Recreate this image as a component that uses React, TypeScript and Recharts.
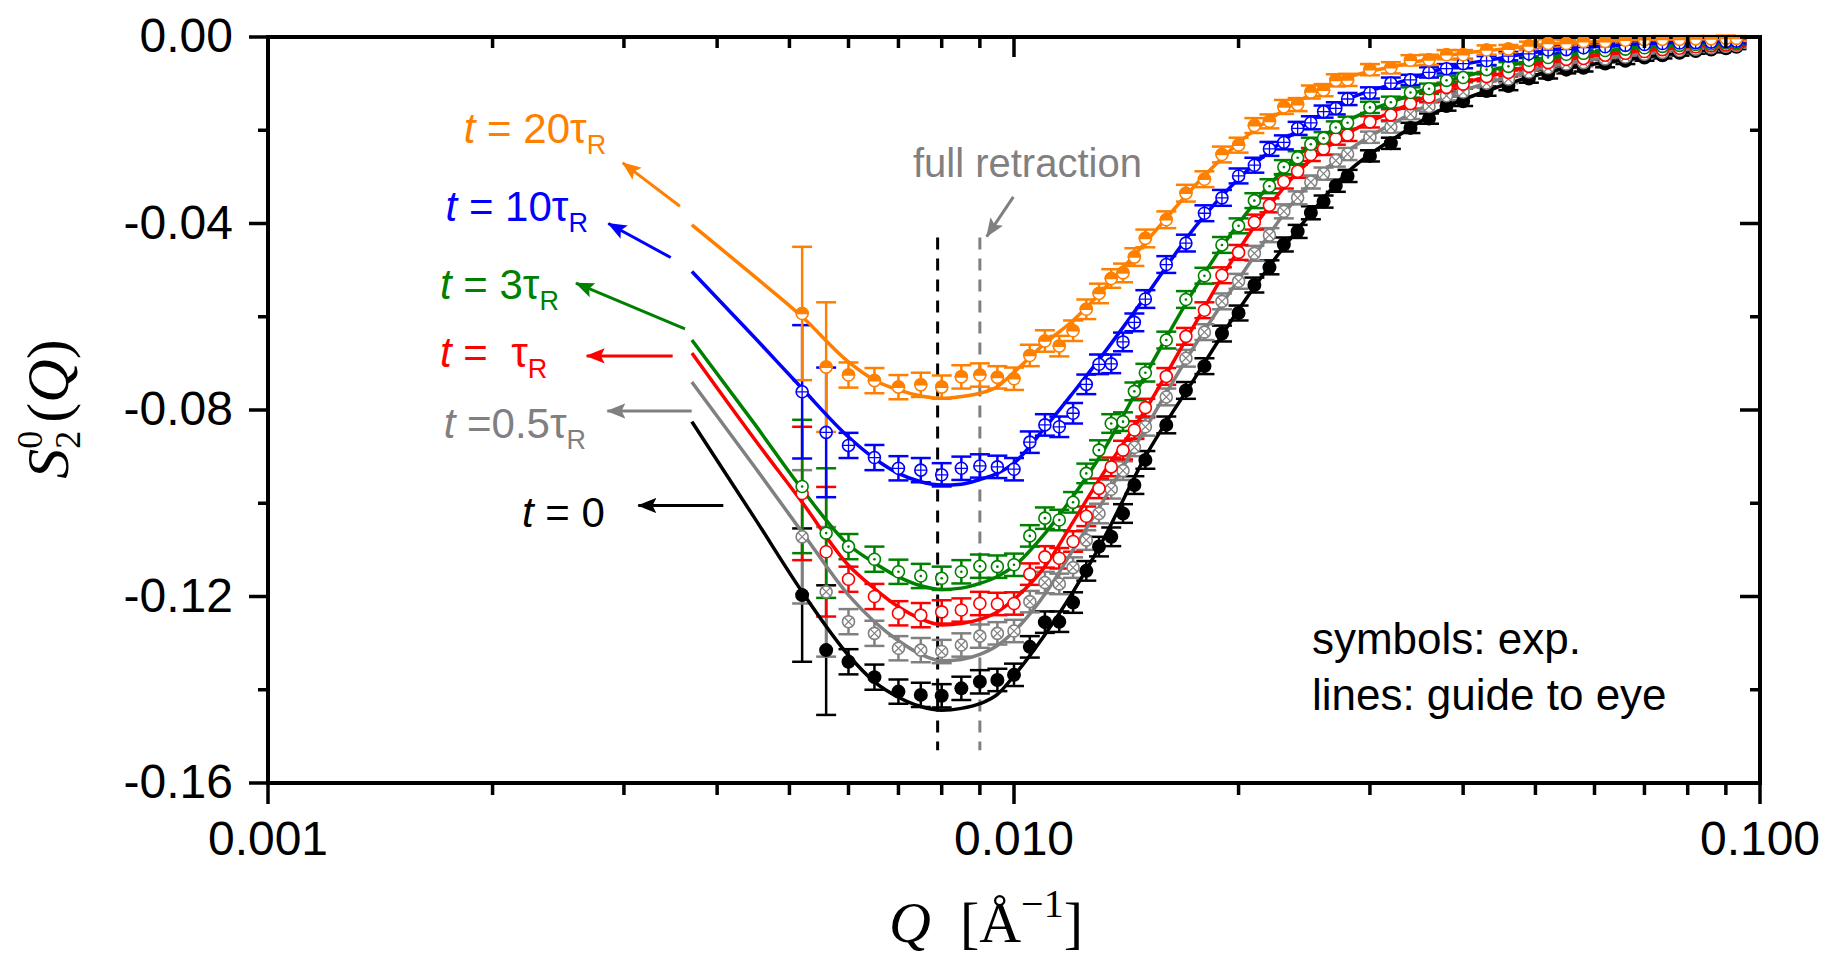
import React from 'react';
import { ComposedChart, XAxis, YAxis, Scatter, Line, ErrorBar } from 'recharts';

// Q positions of the measured points [1/Å]
const Q_PTS = [
  0.0052, 0.0056, 0.006, 0.0065, 0.007, 0.0075, 0.008, 0.0085, 0.009, 0.0095,
  0.010, 0.0105, 0.011, 0.0115, 0.012, 0.0125, 0.013, 0.0135, 0.014, 0.0145,
  0.015, 0.016, 0.017, 0.018, 0.019, 0.020, 0.021, 0.022, 0.023, 0.024,
  0.025, 0.026, 0.027, 0.028, 0.030, 0.032, 0.034, 0.036, 0.038, 0.040,
  0.043, 0.046, 0.049, 0.052, 0.055, 0.058, 0.062, 0.066, 0.070, 0.074,
  0.078, 0.082, 0.086, 0.090, 0.093,
];

// error bar half heights
const ERR = [
  0.0143, 0.0139, 0.0027, 0.0027, 0.0026, 0.0026, 0.0025, 0.0025, 0.0025, 0.0024,
  0.0024, 0.0023, 0.0023, 0.0022, 0.0022, 0.0021, 0.0021, 0.0020, 0.0020, 0.0019,
  0.0019, 0.0018, 0.0018, 0.0017, 0.0017, 0.0016, 0.0016, 0.0015, 0.0015, 0.0014,
  0.0014, 0.0013, 0.0013, 0.0013, 0.0012, 0.0012, 0.0011, 0.0011, 0.0010, 0.0010,
  0.0010, 0.0009, 0.0009, 0.0009, 0.0008, 0.0008, 0.0008, 0.0007, 0.0007, 0.0007,
  0.0006, 0.0006, 0.0006, 0.0006, 0.0005,
];

const PTS_T0 = [
  -0.1197, -0.1315, -0.1340, -0.1373, -0.1404, -0.1411, -0.1413, -0.1397, -0.1383, -0.1379,
  -0.1368, -0.1308, -0.1255, -0.1254, -0.1213, -0.1145, -0.1093, -0.1072, -0.1022, -0.0961,
  -0.0907, -0.0832, -0.0758, -0.0706, -0.0636, -0.0592, -0.0532, -0.0494, -0.0445, -0.0417,
  -0.0377, -0.0353, -0.0319, -0.0298, -0.0255, -0.0228, -0.0195, -0.0175, -0.0148, -0.0138,
  -0.0116, -0.0105, -0.0089, -0.0080, -0.0070, -0.0066, -0.0057, -0.0051, -0.0044, -0.0039,
  -0.0034, -0.0030, -0.0027, -0.0024, -0.0021,
];
const PTS_T05 = [
  -0.1072, -0.1190, -0.1254, -0.1279, -0.1311, -0.1315, -0.1318, -0.1304, -0.1285, -0.1279,
  -0.1274, -0.1211, -0.1170, -0.1173, -0.1138, -0.1079, -0.1022, -0.0970, -0.0930, -0.0880,
  -0.0836, -0.0772, -0.0689, -0.0633, -0.0567, -0.0524, -0.0464, -0.0425, -0.0374, -0.0345,
  -0.0311, -0.0293, -0.0265, -0.0251, -0.0215, -0.0193, -0.0165, -0.0149, -0.0126, -0.0118,
  -0.0099, -0.0090, -0.0075, -0.0066, -0.0058, -0.0055, -0.0047, -0.0043, -0.0037, -0.0033,
  -0.0029, -0.0026, -0.0023, -0.0020, -0.0018,
];
const PTS_T1 = [
  -0.0979, -0.1104, -0.1163, -0.1200, -0.1236, -0.1240, -0.1233, -0.1229, -0.1215, -0.1216,
  -0.1215, -0.1152, -0.1115, -0.1118, -0.1082, -0.1028, -0.0968, -0.0922, -0.0886, -0.0843,
  -0.0795, -0.0728, -0.0642, -0.0586, -0.0511, -0.0462, -0.0397, -0.0361, -0.0310, -0.0288,
  -0.0252, -0.0240, -0.0218, -0.0210, -0.0182, -0.0167, -0.0143, -0.0129, -0.0108, -0.0101,
  -0.0085, -0.0076, -0.0063, -0.0055, -0.0048, -0.0046, -0.0039, -0.0035, -0.0031, -0.0027,
  -0.0024, -0.0021, -0.0019, -0.0017, -0.0015,
];
const PTS_T3 = [
  -0.0964, -0.1064, -0.1093, -0.1120, -0.1147, -0.1156, -0.1161, -0.1147, -0.1135, -0.1136,
  -0.1132, -0.1070, -0.1032, -0.1036, -0.0998, -0.0936, -0.0886, -0.0829, -0.0825, -0.0760,
  -0.0720, -0.0650, -0.0563, -0.0512, -0.0446, -0.0405, -0.0351, -0.0320, -0.0279, -0.0259,
  -0.0230, -0.0217, -0.0194, -0.0184, -0.0151, -0.0140, -0.0119, -0.0111, -0.0093, -0.0087,
  -0.0070, -0.0063, -0.0050, -0.0044, -0.0037, -0.0035, -0.0029, -0.0026, -0.0023, -0.0020,
  -0.0018, -0.0016, -0.0015, -0.0013, -0.0012,
];
const PTS_T10 = [
  -0.0761, -0.0848, -0.0876, -0.0902, -0.0925, -0.0929, -0.0939, -0.0925, -0.0920, -0.0922,
  -0.0927, -0.0869, -0.0832, -0.0836, -0.0807, -0.0745, -0.0702, -0.0701, -0.0654, -0.0612,
  -0.0562, -0.0488, -0.0442, -0.0378, -0.0345, -0.0298, -0.0275, -0.0240, -0.0226, -0.0196,
  -0.0184, -0.0160, -0.0153, -0.0133, -0.0120, -0.0099, -0.0092, -0.0076, -0.0068, -0.0057,
  -0.0051, -0.0041, -0.0036, -0.0028, -0.0027, -0.0023, -0.0021, -0.0018, -0.0016, -0.0014,
  -0.0013, -0.0012, -0.0011, -0.0010, -0.0009,
];
const PTS_T20 = [
  -0.0593, -0.0708, -0.0725, -0.0737, -0.0751, -0.0746, -0.0751, -0.0729, -0.0725, -0.0730,
  -0.0733, -0.0683, -0.0652, -0.0663, -0.0630, -0.0584, -0.0550, -0.0518, -0.0506, -0.0472,
  -0.0432, -0.0392, -0.0335, -0.0305, -0.0252, -0.0232, -0.0190, -0.0181, -0.0150, -0.0145,
  -0.0118, -0.0114, -0.0093, -0.0092, -0.0070, -0.0066, -0.0050, -0.0049, -0.0038, -0.0038,
  -0.0028, -0.0026, -0.0019, -0.0014, -0.0014, -0.0010, -0.0010, -0.0007, -0.0006, -0.0005,
  -0.0005, -0.0004, -0.0004, -0.0003, -0.0003,
];

// guide-to-eye lines
const Q_LINE = [
  0.0037, 0.0045, 0.0052, 0.006, 0.0065, 0.007, 0.0075, 0.008, 0.0085, 0.009,
  0.0095, 0.010, 0.011, 0.012, 0.013, 0.015, 0.0175, 0.02, 0.024, 0.028,
  0.033, 0.038, 0.045, 0.052, 0.06, 0.071, 0.082, 0.093,
];
const LINE_T0 = [
  -0.0825, -0.1034, -0.1190, -0.1326, -0.1383, -0.1416, -0.1436, -0.1444, -0.1440, -0.1430,
  -0.1410, -0.1370, -0.1282, -0.1190, -0.1095, -0.0900, -0.0730, -0.0585, -0.0413, -0.0290,
  -0.0208, -0.0150, -0.0105, -0.0075, -0.0058, -0.0042, -0.0030, -0.0021,
];
const LINE_T05 = [
  -0.0740, -0.0924, -0.1062, -0.1197, -0.1254, -0.1295, -0.1324, -0.1338, -0.1335, -0.1324,
  -0.1305, -0.1275, -0.1195, -0.1100, -0.1010, -0.0840, -0.0660, -0.0520, -0.0343, -0.0245,
  -0.0176, -0.0128, -0.0090, -0.0064, -0.0048, -0.0035, -0.0025, -0.0018,
];
const LINE_T1 = [
  -0.0678, -0.0865, -0.0998, -0.1133, -0.1183, -0.1222, -0.1248, -0.1261, -0.1258, -0.1249,
  -0.1233, -0.1206, -0.1136, -0.1040, -0.0950, -0.0800, -0.0614, -0.0457, -0.0290, -0.0207,
  -0.0152, -0.0110, -0.0078, -0.0054, -0.0040, -0.0028, -0.0020, -0.0015,
];
const LINE_T3 = [
  -0.0650, -0.0832, -0.0970, -0.1089, -0.1128, -0.1158, -0.1177, -0.1185, -0.1182, -0.1172,
  -0.1157, -0.1135, -0.1065, -0.0985, -0.0903, -0.0725, -0.0538, -0.0400, -0.0255, -0.0180,
  -0.0132, -0.0095, -0.0066, -0.0044, -0.0032, -0.0021, -0.0016, -0.0012,
];
const LINE_T10 = [
  -0.0503, -0.0646, -0.0754, -0.0858, -0.0904, -0.0936, -0.0954, -0.0961, -0.0959, -0.0949,
  -0.0936, -0.0914, -0.0838, -0.0763, -0.0692, -0.0557, -0.0407, -0.0304, -0.0200, -0.0134,
  -0.0096, -0.0066, -0.0045, -0.0029, -0.0021, -0.0014, -0.0011, -0.0009,
];
const LINE_T20 = [
  -0.0403, -0.0515, -0.0600, -0.0697, -0.0736, -0.0757, -0.0770, -0.0775, -0.0771, -0.0764,
  -0.0750, -0.0719, -0.0657, -0.0608, -0.0552, -0.0441, -0.0318, -0.0227, -0.0139, -0.0087,
  -0.0060, -0.0040, -0.0026, -0.0015, -0.0010, -0.0005, -0.0004, -0.0003,
];

// series labels and arrows (t = 0, 0.5, 1, 3, 10, 20 τR)
const LABEL_MID = [' = 0', ' =0.5', ' =  ', ' = 3', ' = 10', ' = 20'];
const LABEL_TAU = [false, true, true, true, true, true];
const LABEL_Q = [0.00219, 0.00172, 0.0017, 0.0017, 0.00173, 0.00183];
const LABEL_V = [-0.1050, -0.0861, -0.0707, -0.0562, -0.0394, -0.0227];
const ARROW_TIP_Q = [0.003136, 0.00285, 0.002674, 0.002587, 0.002859, 0.002989];
const ARROW_TIP_V = [-0.1005, -0.0802, -0.0684, -0.0528, -0.0400, -0.0270];
const ARROW_TAIL_Q = [0.004077, 0.003698, 0.003487, 0.003622, 0.003466, 0.003566];
const ARROW_TAIL_V = [-0.1005, -0.0802, -0.0684, -0.0626, -0.0473, -0.0363];

// vertical markers: minimum position and full retraction
const VLINE_Q = [0.0079, 0.009];
const VLINE_V = [-0.043, -0.153];
const RETRACT_TEXT = 'full retraction';
const RETRACT_TEXT_Q = 0.00732;
const RETRACT_TEXT_V = -0.0300;
const RETRACT_ARROW_Q = [0.009192, 0.00998];
const RETRACT_ARROW_V = [-0.0428, -0.0343];
const NOTE_LINES = ['symbols: exp.', 'lines: guide to eye'];
const NOTE_Q = 0.02508;
const NOTE_V = [-0.1323, -0.1443];

const X_TICKS = [
  0.001, 0.002, 0.003, 0.004, 0.005, 0.006, 0.007, 0.008, 0.009,
  0.01, 0.02, 0.03, 0.04, 0.05, 0.06, 0.07, 0.08, 0.09, 0.1,
];
const Y_TICKS = [0, -0.02, -0.04, -0.06, -0.08, -0.1, -0.12, -0.14, -0.16];

const SERIES = [
  { key: 't0', color: '#000000', kind: 'filled', pts: PTS_T0, line: LINE_T0 },
  { key: 't05', color: '#808080', kind: 'cross', pts: PTS_T05, line: LINE_T05 },
  { key: 't1', color: '#FF0000', kind: 'open', pts: PTS_T1, line: LINE_T1 },
  { key: 't3', color: '#008000', kind: 'dot', pts: PTS_T3, line: LINE_T3 },
  { key: 't10', color: '#0000FF', kind: 'plus', pts: PTS_T10, line: LINE_T10 },
  { key: 't20', color: '#FF8000', kind: 'half', pts: PTS_T20, line: LINE_T20 },
];

const FONT = '"Liberation Sans", Arial, sans-serif';
const SERIF = '"Liberation Serif", "Times New Roman", serif';
const AXIS_LINE = { stroke: '#000', strokeWidth: 4, strokeLinecap: 'square' as const };

const isMajorX = (v: number) => [0.001, 0.01, 0.1].some((m) => Math.abs(v - m) / m < 1e-6);
const isMajorY = (v: number) => Math.round(Math.abs(v) * 100) % 4 === 0;

const BottomTick = (p: any) => {
  const major = isMajorX(p.payload.value);
  return (
    <g>
      <line x1={p.x} x2={p.x} y1={p.y} y2={p.y + (major ? 21 : 12)} stroke="#000" strokeWidth={3.5} />
      {major && (
        <text x={p.x} y={p.y + 72} textAnchor="middle" fontFamily={FONT} fontSize={48} fill="#000">
          {p.payload.value.toFixed(3)}
        </text>
      )}
    </g>
  );
};

const TopTick = (p: any) => {
  const major = isMajorX(p.payload.value);
  return <line x1={p.x} x2={p.x} y1={p.y} y2={p.y + (major ? 20 : 11)} stroke="#000" strokeWidth={3.5} />;
};

const LeftTick = (p: any) => {
  const v = p.payload.value;
  const major = isMajorY(v);
  return (
    <g>
      <line x1={p.x} x2={p.x - (major ? 19 : 10)} y1={p.y} y2={p.y} stroke="#000" strokeWidth={3.5} />
      {major && (
        <text x={p.x - 35} y={p.y + 15} textAnchor="end" fontFamily={FONT} fontSize={48} fill="#000">
          {Math.abs(v) < 1e-9 ? '0.00' : v.toFixed(2)}
        </text>
      )}
    </g>
  );
};

const RightTick = (p: any) => {
  const major = isMajorY(p.payload.value);
  return <line x1={p.x} x2={p.x - (major ? 20 : 10)} y1={p.y} y2={p.y} stroke="#000" strokeWidth={3.5} />;
};

const Marker = ({ cx, cy, kind, color }: any) => {
  if (cx == null || cy == null) return null;
  const r = 6;
  const sw = 1.6;
  if (kind === 'filled') return <circle cx={cx} cy={cy} r={7} fill={color} />;
  const ring = <circle cx={cx} cy={cy} r={r} fill="#fff" stroke={color} strokeWidth={sw} />;
  if (kind === 'open') return ring;
  if (kind === 'dot')
    return (
      <g>
        {ring}
        <circle cx={cx} cy={cy} r={1.3} fill={color} />
      </g>
    );
  if (kind === 'plus')
    return (
      <g>
        {ring}
        <path d={`M${cx - r},${cy}L${cx + r},${cy}M${cx},${cy - r}L${cx},${cy + r}`} stroke={color} strokeWidth={1.3} />
      </g>
    );
  if (kind === 'cross') {
    const d = r * 0.7;
    return (
      <g>
        {ring}
        <path d={`M${cx - d},${cy - d}L${cx + d},${cy + d}M${cx - d},${cy + d}L${cx + d},${cy - d}`} stroke={color} strokeWidth={1.2} />
      </g>
    );
  }
  // half filled (upper half)
  return (
    <g>
      {ring}
      <path d={`M${cx - r},${cy}A${r},${r} 0 0 1 ${cx + r},${cy}Z`} fill={color} stroke={color} strokeWidth={sw} />
    </g>
  );
};

const SeriesLabel = ({ cx, cy, color, mid, tau }: any) => {
  if (cx == null || cy == null) return null;
  return (
    <text x={cx} y={cy} fill={color} fontFamily={FONT} fontSize={42} style={{ whiteSpace: 'pre' }}>
      <tspan fontStyle="italic">t</tspan>
      <tspan>{mid}</tspan>
      {tau && <tspan>τ</tspan>}
      {tau && (
        <tspan fontSize={27} dy={11}>
          R
        </tspan>
      )}
    </text>
  );
};

const PlainText = ({ cx, cy, text, color, size }: any) => {
  if (cx == null || cy == null) return null;
  return (
    <text x={cx} y={cy} fill={color} fontFamily={FONT} fontSize={size}>
      {text}
    </text>
  );
};

const mkPts = (vals: number[]) => Q_PTS.map((q, i) => ({ q, v: vals[i], e: ERR[i] }));
const mkLine = (vals: number[]) => Q_LINE.map((q, i) => ({ q, v: vals[i] }));

const App = () => {
  const ids = { xAxisId: 'b', yAxisId: 'l' };
  return (
    <div style={{ position: 'absolute', left: 0, top: 0, width: 1829, height: 968, background: '#fff' }}>
      <svg width={0} height={0} style={{ position: 'absolute' }}>
        <defs>
          {[...SERIES.map((s) => [s.key, s.color]), ['ret', '#808080']].map(([k, c]) => (
            <marker
              key={k}
              id={`ah-${k}`}
              viewBox="0 0 20 16"
              refX={19}
              refY={8}
              markerWidth={19}
              markerHeight={16}
              markerUnits="userSpaceOnUse"
              orient="auto-start-reverse"
            >
              <path d="M0,0 L20,8 L0,16 L4,8 Z" fill={c} />
            </marker>
          ))}
        </defs>
      </svg>
      <ComposedChart width={1829} height={968} margin={{ top: 7, right: 9, bottom: 155, left: 208 }}>
        <XAxis
          xAxisId="b"
          dataKey="q"
          type="number"
          scale="log"
          domain={[0.001, 0.1]}
          allowDataOverflow
          ticks={X_TICKS}
          interval={0}
          tickSize={0}
          tickMargin={0}
          tickLine={false}
          tick={BottomTick}
          axisLine={AXIS_LINE}
          height={30}
        />
        <XAxis
          xAxisId="t"
          orientation="top"
          dataKey="q"
          type="number"
          scale="log"
          domain={[0.001, 0.1]}
          allowDataOverflow
          ticks={X_TICKS}
          interval={0}
          tickSize={0}
          tickMargin={0}
          tickLine={false}
          tick={TopTick}
          axisLine={AXIS_LINE}
          height={30}
        />
        <YAxis
          yAxisId="l"
          dataKey="v"
          type="number"
          domain={[-0.16, 0]}
          allowDataOverflow
          ticks={Y_TICKS}
          interval={0}
          tickSize={0}
          tickMargin={0}
          tickLine={false}
          tick={LeftTick}
          axisLine={AXIS_LINE}
          width={60}
        />
        <YAxis
          yAxisId="r"
          orientation="right"
          dataKey="v"
          type="number"
          domain={[-0.16, 0]}
          allowDataOverflow
          ticks={Y_TICKS}
          interval={0}
          tickSize={0}
          tickMargin={0}
          tickLine={false}
          tick={RightTick}
          axisLine={AXIS_LINE}
          width={60}
        />

        {VLINE_Q.map((q, i) => (
          <Line
            key={`vl${i}`}
            {...ids}
            data={VLINE_V.map((v) => ({ q, v }))}
            dataKey="v"
            stroke={i === 0 ? '#000' : '#808080'}
            strokeWidth={3}
            strokeDasharray="12 9"
            dot={false}
            activeDot={false}
            isAnimationActive={false}
          />
        ))}

        {SERIES.map((s) => (
          <Scatter
            key={`p-${s.key}`}
            {...ids}
            data={mkPts(s.pts)}
            dataKey="v"
            fill={s.color}
            isAnimationActive={false}
            shape={(p: any) => <Marker cx={p.cx} cy={p.cy} kind={s.kind} color={s.color} />}
          >
            <ErrorBar dataKey="e" direction="y" width={10} stroke={s.color} strokeWidth={2.5} />
          </Scatter>
        ))}

        {SERIES.map((s) => (
          <Line
            key={`l-${s.key}`}
            {...ids}
            data={mkLine(s.line)}
            dataKey="v"
            type="monotone"
            stroke={s.color}
            strokeWidth={3.5}
            dot={false}
            activeDot={false}
            isAnimationActive={false}
          />
        ))}

        {SERIES.map((s, i) => (
          <Line
            key={`a-${s.key}`}
            {...ids}
            data={[
              { q: ARROW_TIP_Q[i], v: ARROW_TIP_V[i] },
              { q: ARROW_TAIL_Q[i], v: ARROW_TAIL_V[i] },
            ]}
            dataKey="v"
            stroke={s.color}
            strokeWidth={3}
            markerStart={`url(#ah-${s.key})`}
            dot={false}
            activeDot={false}
            isAnimationActive={false}
          />
        ))}
        <Line
          {...ids}
          data={RETRACT_ARROW_Q.map((q, i) => ({ q, v: RETRACT_ARROW_V[i] }))}
          dataKey="v"
          stroke="#808080"
          strokeWidth={3}
          markerStart="url(#ah-ret)"
          dot={false}
          activeDot={false}
          isAnimationActive={false}
        />

        {SERIES.map((s, i) => (
          <Scatter
            key={`t-${s.key}`}
            {...ids}
            data={[{ q: LABEL_Q[i], v: LABEL_V[i] }]}
            dataKey="v"
            isAnimationActive={false}
            shape={(p: any) => (
              <SeriesLabel cx={p.cx} cy={p.cy} color={s.color} mid={LABEL_MID[i]} tau={LABEL_TAU[i]} />
            )}
          />
        ))}
        <Scatter
          {...ids}
          data={[{ q: RETRACT_TEXT_Q, v: RETRACT_TEXT_V }]}
          dataKey="v"
          isAnimationActive={false}
          shape={(p: any) => <PlainText cx={p.cx} cy={p.cy} text={RETRACT_TEXT} color="#808080" size={40} />}
        />
        {NOTE_LINES.map((t, i) => (
          <Scatter
            key={`n${i}`}
            {...ids}
            data={[{ q: NOTE_Q, v: NOTE_V[i] }]}
            dataKey="v"
            isAnimationActive={false}
            shape={(p: any) => <PlainText cx={p.cx} cy={p.cy} text={t} color="#000" size={44} />}
          />
        ))}
      </ComposedChart>

      {/* axis titles */}
      <svg width={1829} height={968} style={{ position: 'absolute', left: 0, top: 0, pointerEvents: 'none' }}>
        <text x={986} y={942} textAnchor="middle" fontFamily={SERIF} fontSize={58} fill="#000" style={{ whiteSpace: 'pre' }}>
          <tspan fontStyle="italic">Q</tspan>
          <tspan>{'  [Å'}</tspan>
          <tspan fontSize={40} dy={-25}>
            {'\u22121'}
          </tspan>
          <tspan dy={25}>]</tspan>
        </text>
        <text
          transform="rotate(-90)"
          x={-409}
          y={68}
          textAnchor="middle"
          fontFamily={SERIF}
          fontSize={60}
          fill="#000"
        >
          <tspan fontStyle="italic">S</tspan>
          <tspan fontSize={36} dy={12}>
            2
          </tspan>
          <tspan fontSize={36} dx={-18} dy={-38}>
            0
          </tspan>
          <tspan dx={8} dy={26}>
            (
          </tspan>
          <tspan fontStyle="italic">Q</tspan>
          <tspan>)</tspan>
        </text>
      </svg>
    </div>
  );
};

export default App;
